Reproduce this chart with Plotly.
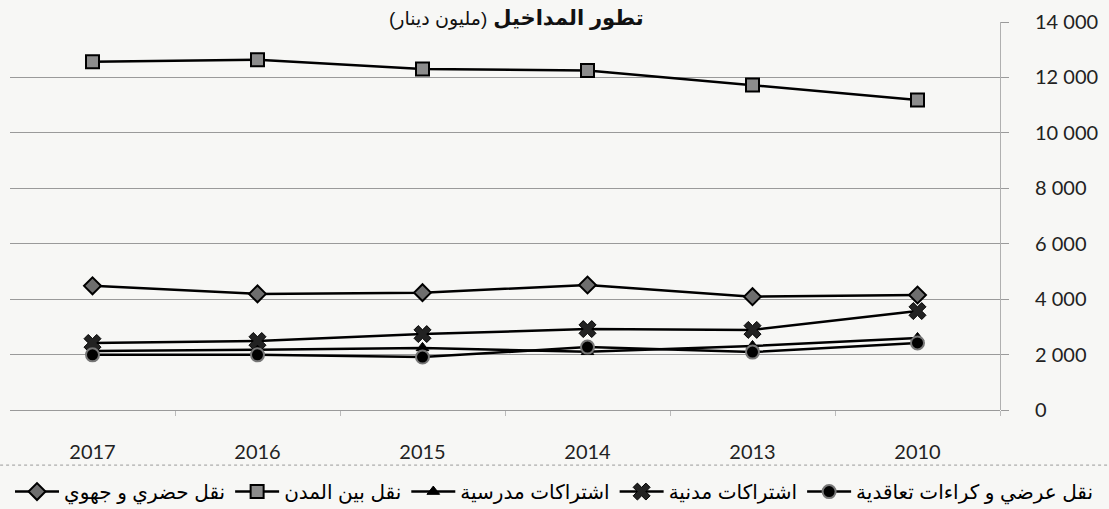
import plotly.graph_objects as go

# Years (shown newest on the left, as in the original)
years = ["2010", "2013", "2014", "2015", "2016", "2017"]

# Revenue by activity (million dinars)
urban_regional = [4150, 4090, 4510, 4235, 4190, 4480]        # نقل حضري و جهوي
intercity = [11190, 11730, 12250, 12300, 12640, 12570]       # نقل بين المدن
school_subs = [2600, 2310, 2100, 2240, 2170, 2130]           # اشتراكات مدرسية
civil_subs = [3570, 2890, 2920, 2740, 2490, 2420]            # اشتراكات مدنية
occasional = [2420, 2090, 2270, 1910, 1990, 1990]            # نقل عرضي و كراءات تعاقدية

series_names = [
    "نقل حضري و جهوي",
    "نقل بين المدن",
    "اشتراكات مدرسية",
    "اشتراكات مدنية",
    "نقل عرضي و كراءات تعاقدية",
]

title_main = "تطور المداخيل"
title_unit = "(مليون دينار)"

BG = "#f7f7f5"
ARABIC_FONT = "Arial, DejaVu Sans, sans-serif"
NUM_FONT = "Lato, Open Sans, sans-serif"

fig = go.Figure()

# marker styles per series
styles = [
    dict(symbol="diamond", size=13, color="#6e6e6e", line=dict(color="black", width=2)),
    dict(symbol="square", size=13, color="#8c8c8c", line=dict(color="black", width=2)),
    dict(symbol="triangle-up", size=11, color="black", line=dict(color="black", width=1)),
    dict(symbol="x", size=15, color="#222222", line=dict(color="black", width=1)),
    dict(symbol="circle", size=13, color="black", line=dict(color="#777777", width=2)),
]

for name, values, marker in zip(
    series_names,
    [urban_regional, intercity, school_subs, civil_subs, occasional],
    styles,
):
    fig.add_trace(
        go.Scatter(
            x=years,
            y=values,
            name=name,
            mode="lines+markers",
            line=dict(color="black", width=2.5),
            marker=marker,
        )
    )

# Title with a background box over the top gridline
fig.add_annotation(
    text=f"<b>{title_main}</b> <span style='font-size:19px'>{title_unit}</span>\u200f",
    xref="paper",
    yref="paper",
    x=0.512,
    y=1.01,
    xanchor="center",
    yanchor="middle",
    showarrow=False,
    font=dict(family=ARABIC_FONT, size=21, color="#111111"),
    bgcolor=BG,
    borderpad=2,
)

# Dotted separator line above the legend
fig.add_shape(
    type="line",
    xref="paper",
    yref="paper",
    x0=-0.01,
    x1=1.11,
    y0=-0.142,
    y1=-0.142,
    line=dict(color="#9a9a9a", width=1, dash="dot"),
)

fig.update_layout(
    width=1109,
    height=509,
    paper_bgcolor=BG,
    plot_bgcolor=BG,
    margin=dict(l=10, r=109, t=22, b=99, autoexpand=False),
    separators=". ",
    showlegend=True,
    legend=dict(
        orientation="h",
        x=1.1,
        xanchor="right",
        y=-0.16,
        yanchor="top",
        font=dict(family=ARABIC_FONT, size=20, color="black"),
        bgcolor="rgba(0,0,0,0)",
        itemwidth=44,
        tracegroupgap=0,
    ),
    xaxis=dict(
        type="category",
        range=[5.5, -0.5],
        automargin=False,
        showgrid=False,
        showline=False,
        zeroline=False,
        ticks="outside",
        tickson="boundaries",
        ticklen=5,
        tickcolor="#bbbbbb",
        tickangle=0,
        ticklabelstandoff=28,
        tickfont=dict(family=NUM_FONT, size=20, color="#222222"),
    ),
    yaxis=dict(
        side="right",
        range=[0, 14000],
        dtick=2000,
        tickformat=",d",
        automargin=False,
        showgrid=True,
        gridcolor="#9a9a9a",
        gridwidth=1,
        zeroline=True,
        zerolinecolor="#9a9a9a",
        zerolinewidth=1,
        showline=True,
        linecolor="#b0b0b0",
        linewidth=1,
        ticks="outside",
        ticklen=8,
        tickcolor="#9a9a9a",
        ticklabelstandoff=22,
        tickfont=dict(family=NUM_FONT, size=20, color="#222222"),
    ),
)

fig.write_html(
    "out.html",
    config={"displayModeBar": False},
    post_script="document.body.style.margin = '0';",
)
